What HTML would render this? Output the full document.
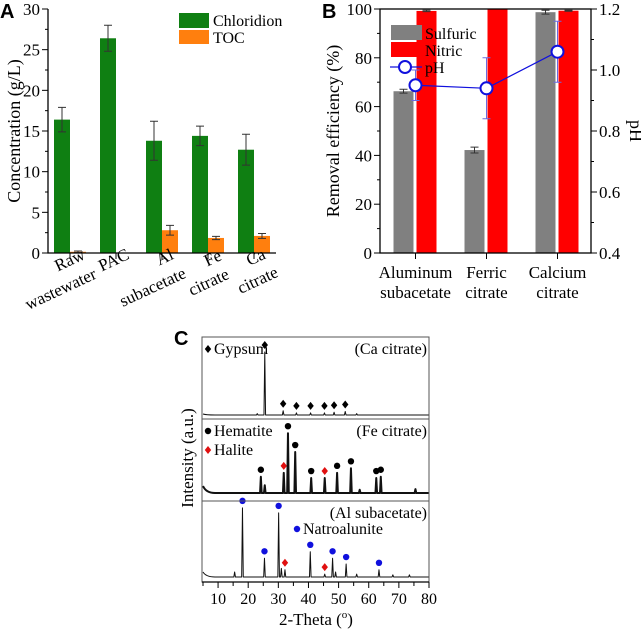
<!DOCTYPE html>
<html><head><meta charset="utf-8"><style>
body{margin:0;background:#fff}
svg{display:block;font-family:"Liberation Serif",serif}
.tk{font-size:17px}
</style></head><body>
<svg id="s" width="641" height="632" viewBox="0 0 641 632" xmlns="http://www.w3.org/2000/svg">
<g id="A"></g>
<g id="B"></g>
<g id="C"></g>
</svg>
<script>
// Panel A data
const aCats=["Raw","PAC","Al","Fe","Ca"];
const aChl=[16.4,26.4,13.8,14.4,12.7];
const aChlErr=[1.5,1.6,2.4,1.2,1.9];
const aToc=[0.15,0,2.8,1.85,2.1];
const aTocErr=[0.1,0,0.6,0.2,0.3];
const aTicks=[0,5,10,15,20,25,30];
// Panel B data
const bCats=["Aluminum subacetate","Ferric citrate","Calcium citrate"];
const bSulf=[66.3,42.2,98.7];
const bSulfErr=[0.8,1.2,0.8];
const bNit=[99.2,100,99.3];
const bNitErr=[0.3,0,0.2];
const bPH=[0.95,0.94,1.06];
const bPHErr=[0.05,0.1,0.1];
const bTicksL=[0,20,40,60,80,100];
const bTicksR=[0.4,0.6,0.8,1.0,1.2];
// Panel C data (2-theta, relative intensity, marker type)
const caPos=[25.5,31.6,36.0,40.7,45.3,48.5,52.2,23.0,56.0];
const caInt=[0.9,0.06,0.03,0.03,0.03,0.04,0.05,0.02,0.02];
const caMark=["G","G","G","G","G","G","G","",""];
const fePos=[24.2,25.5,31.8,33.2,35.6,40.9,45.4,49.5,54.1,62.5,64.0,57.0,75.5];
const feInt=[0.25,0.12,0.31,0.92,0.63,0.23,0.23,0.31,0.38,0.23,0.25,0.05,0.06];
const feMark=["He","","Ha","He","He","He","Ha","He","He","He","He","",""];
const alPos=[15.5,18.1,25.4,30.1,31.0,32.2,40.6,45.4,48.0,49.0,52.5,56.0,63.4,68.0,73.5];
const alInt=[0.07,0.96,0.26,0.89,0.12,0.10,0.35,0.04,0.26,0.07,0.18,0.04,0.10,0.03,0.03];
const alMark=["","N","N","N","","Ha","N","Ha","N","","N","","N","",""];
const cTicks=[10,20,30,40,50,60,70,80];

const NS="http://www.w3.org/2000/svg";
function mk(parent,tag,attrs,text){const e=document.createElementNS(NS,tag);for(const k in attrs)e.setAttribute(k,attrs[k]);if(text!==undefined)e.textContent=text;parent.appendChild(e);return e;}

// ---------- Panel A ----------
const A=document.getElementById('A');
const ay=v=>253-v*(244/30);
const ax=i=>70+i*46;
let t=mk(A,'text',{x:0,y:18,'font-family':'Liberation Sans,sans-serif','font-weight':'bold','font-size':20},'A');


aCats.forEach((c,i)=>{
  let r=mk(A,'rect',{x:ax(i)-16,y:ay(aChl[i]),width:16,height:253-ay(aChl[i]),fill:'#0f7f12'});
  
  
  if(aToc[i]>0){
    let o=mk(A,'rect',{x:ax(i),y:ay(aToc[i]),width:16,height:253-ay(aToc[i]),fill:'#ff7f0e'});
    
    
  }
  [[ax(i)-8,aChl[i],aChlErr[i]],[ax(i)+8,aToc[i],aTocErr[i]]].forEach(([x,v,e])=>{
    if(e<=0)return;
    let p=mk(A,'path',{d:`M${x},${ay(v-e)}V${ay(v+e)}M${x-4},${ay(v-e)}h8M${x-4},${ay(v+e)}h8`,stroke:'#333',fill:'none','stroke-width':1});
    
    
  });
});
mk(A,'path',{d:'M48,9V253H276',stroke:'#000',fill:'none','stroke-width':1.3});
aTicks.forEach(v=>{
  mk(A,'line',{x1:48,x2:42,y1:ay(v),y2:ay(v),stroke:'#000'});
  if(v<30)mk(A,'line',{x1:48,x2:45,y1:ay(v+2.5),y2:ay(v+2.5),stroke:'#000'});
  let l=mk(A,'text',{x:40,y:ay(v)+6,'text-anchor':'end',class:'tk'},v);
  
  
});
aCats.forEach((c,i)=>mk(A,'line',{x1:ax(i),x2:ax(i),y1:253,y2:259,stroke:'#000'}));
t=mk(A,'text',{transform:'translate(20,131) rotate(-90)','text-anchor':'middle','font-size':18},'Concentration (g/L)');


const aLab=[["Raw",72,265],["wastewater",63,294],["PAC",116,265],["Al",167,262],["subacetate",155,292],["Fe",215,263],["citrate",211,287],["Ca",258,262],["citrate",260,285]];
aLab.forEach(([s,x,y])=>{let e=mk(A,'text',{transform:`translate(${x},${y}) rotate(-25)`,'text-anchor':'middle','font-size':17},s);

});
mk(A,'rect',{x:179,y:13,width:30,height:15,fill:'#0f7f12'});
mk(A,'rect',{x:179,y:30,width:30,height:14,fill:'#ff7f0e'});
t=mk(A,'text',{x:213,y:26,'font-size':16},'Chloridion');


t=mk(A,'text',{x:213,y:43,'font-size':16},'TOC');



// ---------- Panel B ----------
const B=document.getElementById('B');
const by=v=>253-v*(244/100);
const byr=v=>253-(v-0.4)*(244/0.8);
const bx=i=>415.5+i*71;
t=mk(B,'text',{x:322,y:18,'font-family':'Liberation Sans,sans-serif','font-weight':'bold','font-size':20},'B');


bCats.forEach((c,i)=>{
  let r=mk(B,'rect',{x:bx(i)-22,y:by(bSulf[i]),width:20,height:253-by(bSulf[i]),fill:'#808080'});
  
  
  r=mk(B,'rect',{x:bx(i)+1,y:by(bNit[i]),width:20,height:253-by(bNit[i]),fill:'#ff0000'});
  
  
  [[bx(i)-12,bSulf[i],bSulfErr[i]],[bx(i)+11,bNit[i],bNitErr[i]]].forEach(([x,v,e])=>{
    if(e<=0)return;
    mk(B,'path',{d:`M${x},${by(v-e)}V${by(v+e)}M${x-4},${by(v-e)}h8M${x-4},${by(v+e)}h8`,stroke:'#333',fill:'none'});
  });
});
mk(B,'rect',{x:391,y:25,width:31,height:15,fill:'#808080'});
mk(B,'rect',{x:391,y:42,width:31,height:15,fill:'#ff0000'});
[["Sulfuric",39],["Nitric",56],["pH",73]].forEach(([s,y])=>{let e=mk(B,'text',{x:425,y:y,'font-size':16},s);

});
mk(B,'line',{x1:390,x2:422,y1:67,y2:67,stroke:'#1010dd','stroke-width':1.2});
mk(B,'circle',{cx:405,cy:67,r:6,fill:'#fff',stroke:'#1010dd','stroke-width':2});
let pts=bPH.map((v,i)=>`${bx(i)},${byr(v)}`).join(' ');
t=mk(B,'polyline',{points:pts,fill:'none',stroke:'#1010dd','stroke-width':1.2});


bPH.forEach((v,i)=>{
  mk(B,'path',{d:`M${bx(i)},${byr(v-bPHErr[i])}V${byr(v+bPHErr[i])}M${bx(i)-4},${byr(v-bPHErr[i])}h8M${bx(i)-4},${byr(v+bPHErr[i])}h8`,stroke:'#6a6ae0',fill:'none'});
  let c=mk(B,'circle',{cx:bx(i),cy:byr(v),r:6,fill:'#fff',stroke:'#1010dd','stroke-width':2});
  
  
});
mk(B,'rect',{x:380,y:9,width:211,height:244,fill:'none',stroke:'#000','stroke-width':1.3});
bTicksL.forEach(v=>{
  mk(B,'line',{x1:380,x2:374,y1:by(v),y2:by(v),stroke:'#000'});
  if(v<100)mk(B,'line',{x1:380,x2:377,y1:by(v+10),y2:by(v+10),stroke:'#000'});
  let l=mk(B,'text',{x:372,y:by(v)+6,'text-anchor':'end',class:'tk'},v);
  
  
});
bTicksR.forEach(v=>{
  mk(B,'line',{x1:591,x2:597,y1:byr(v),y2:byr(v),stroke:'#000'});
  if(v<1.2)mk(B,'line',{x1:591,x2:594,y1:byr(v+0.1),y2:byr(v+0.1),stroke:'#000'});
  let l=mk(B,'text',{x:599,y:byr(v)+6,class:'tk'},v.toFixed(1));
  
  
});
bCats.forEach((c,i)=>{
  mk(B,'line',{x1:bx(i),x2:bx(i),y1:253,y2:259,stroke:'#000'});
  const w=c.split(' ');
  let e=mk(B,'text',{x:bx(i),y:278,'text-anchor':'middle','font-size':17},w[0]);
  
  
  e=mk(B,'text',{x:bx(i),y:298,'text-anchor':'middle','font-size':17},w[1]);
  
  
});
t=mk(B,'text',{transform:'translate(339,131) rotate(-90)','text-anchor':'middle','font-size':18},'Removal efficiency (%)');


t=mk(B,'text',{transform:'translate(630,131) rotate(90)','text-anchor':'middle','font-size':18},'pH');



// ---------- Panel C ----------
const C=document.getElementById('C');
const cx=v=>203+(v-5)*(226/75);
t=mk(C,'text',{x:174,y:345,'font-family':'Liberation Sans,sans-serif','font-weight':'bold','font-size':20},'C');


function diamond(x,y,col){return mk(C,'path',{d:`M${x},${y-4}L${x+3.2},${y}L${x},${y+4}L${x-3.2},${y}Z`,fill:col});}
function dot(x,y,col){return mk(C,'circle',{cx:x,cy:y,r:3.2,fill:col});}
function spectrum(pos,inten,marks,base,scale,sw,name,rise){
  const order=pos.map((p,i)=>i).sort((a,b)=>pos[a]-pos[b]);
  let d=`M${cx(5)},${base-rise}Q${cx(6)},${base} ${cx(9)},${base}`;
  order.forEach(i=>{const x=cx(pos[i]);d+=`L${x-0.8},${base}L${x},${base-inten[i]*scale}L${x+0.8},${base}`;});
  d+=`L${cx(80)},${base}`;
  let p=mk(C,'path',{d:d,fill:'none',stroke:'#111','stroke-width':sw,'stroke-linejoin':'round'});
  
  
  marks.forEach((m,i)=>{
    if(!m)return;
    const x=cx(pos[i]),y=base-inten[i]*scale-7;
    let e;
    if(m==="G")e=diamond(x,y,'#000');
    else if(m==="Ha")e=diamond(x,y,'#e01010');
    else if(m==="He")e=dot(x,y,'#000');
    else e=dot(x,y,'#1010dd');
    
    
  });
}
spectrum(caPos,caInt,caMark,415,70,1,'spectrum-ca-citrate',1);
spectrum(fePos,feInt,feMark,493,65,2,'spectrum-fe-citrate',7);
spectrum(alPos,alInt,alMark,577,72,1,'spectrum-al-subacetate',5);
mk(C,'rect',{x:202,y:337,width:227,height:245,fill:'none',stroke:'#555','stroke-width':1});
mk(C,'line',{x1:202,x2:429,y1:419,y2:419,stroke:'#555'});
mk(C,'line',{x1:202,x2:429,y1:501,y2:501,stroke:'#555'});
mk(C,'line',{x1:202,x2:429,y1:582,y2:582,stroke:'#000','stroke-width':1.3});
cTicks.forEach(v=>{
  mk(C,'line',{x1:cx(v),x2:cx(v),y1:582,y2:588,stroke:'#000'});
  mk(C,'line',{x1:cx(v-5),x2:cx(v-5),y1:582,y2:586,stroke:'#000'});
  let l=mk(C,'text',{x:cx(v),y:604,'text-anchor':'middle','font-size':16},v);
  
  
});
t=mk(C,'text',{x:316,y:625,'text-anchor':'middle','font-size':17});


t.appendChild(document.createTextNode('2-Theta ('));
mk(t,'tspan',{'font-size':11,dy:-7},'o');
mk(t,'tspan',{dy:7},')');
t=mk(C,'text',{transform:'translate(193,458) rotate(-90)','text-anchor':'middle','font-size':17},'Intensity (a.u.)');


diamond(208,349,'#000');
dot(208,431,'#000');
diamond(208,450,'#e01010');
dot(297,529,'#1010dd');
[["Gypsum",214,354],["Hematite",214,436],["Halite",214,455],["Natroalunite",303,534]].forEach(([s,x,y])=>{
  let e=mk(C,'text',{x:x,y:y,'font-size':16},s);
  
  
});
[["(Ca citrate)",354],["(Fe citrate)",436],["(Al subacetate)",518]].forEach(([s,y])=>{
  let e=mk(C,'text',{x:427,y:y,'text-anchor':'end','font-size':16},s);
  
  
});
</script>
</body></html>
